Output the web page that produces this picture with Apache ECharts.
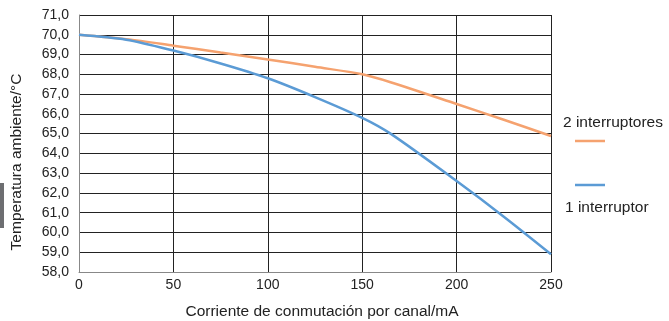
<!DOCTYPE html>
<html><head><meta charset="utf-8">
<script src="https://cdn.jsdelivr.net/npm/echarts@6/dist/echarts.min.js"></script>
<style>html,body{margin:0;padding:0;background:#fff}#c{width:669px;height:321px}</style>
</head><body><div id="c"></div>
<script>
const xTitle = 'Corriente de conmutación por canal/mA';
const yTitle = 'Temperatura ambiente/°C';
const seriesNames = ['2 interruptores', '1 interruptor'];
const currentTwo = [0, 25, 50, 75, 100, 125, 150, 165, 200, 225, 250];
const tempTwo = [70.0, 69.78, 69.45, 69.1, 68.75, 68.38, 68.0, 67.6, 66.5, 65.7, 64.88];
const currentOne = [0, 25, 50, 75, 100, 125, 150, 165, 200, 225, 250];
const tempOne = [70.0, 69.75, 69.2, 68.55, 67.8, 66.85, 65.8, 65.0, 62.6, 60.8, 58.9];

const font = '"Liberation Sans", Arial, sans-serif';
const chart = echarts.init(document.getElementById('c'));
chart.setOption({
  animation: false,
  textStyle: {fontFamily: font},
  grid: {left: 79, right: 118, top: 15, bottom: 49, containLabel: false, outerBoundsMode: 'none'},
  xAxis: {
    type: 'value', min: 0, max: 250, interval: 50,
    axisLine: {show: true, lineStyle: {color: '#888'}},
    axisTick: {show: false},
    axisLabel: {color: '#222', fontSize: 14, margin: 6, fontFamily: font},
    splitLine: {show: true, lineStyle: {color: '#222', width: 1}}
  },
  yAxis: {
    type: 'value', min: 58, max: 71, interval: 1,
    axisLine: {show: true, lineStyle: {color: '#888'}},
    axisTick: {show: false},
    axisLabel: {color: '#222', fontSize: 14, margin: 10, fontFamily: font,
      formatter: v => v.toFixed(1).replace('.', ',')},
    splitLine: {show: true, lineStyle: {color: '#222', width: 1}}
  },
  series: [
    {name: seriesNames[0], type: 'line', smooth: 0.3, symbol: 'none',
     lineStyle: {color: '#f5a26f', width: 2.5},
     data: currentTwo.map((x, i) => [x, tempTwo[i]])},
    {name: seriesNames[1], type: 'line', smooth: 0.3, symbol: 'none',
     lineStyle: {color: '#5b9bd5', width: 2.5},
     data: currentOne.map((x, i) => [x, tempOne[i]])}
  ],
  graphic: [
    {type: 'rect', left: 0, top: 183, shape: {width: 4, height: 45}, style: {fill: '#6d6e71'}},
    {type: 'text', x: 17, y: 162, rotation: Math.PI / 2,
     style: {text: yTitle, fill: '#222', font: '15.5px ' + font, align: 'center', verticalAlign: 'middle'}},
    {type: 'text', x: 322, y: 312,
     style: {text: xTitle, fill: '#222', font: '15.5px ' + font, align: 'center', verticalAlign: 'middle'}},
    {type: 'text', x: 563, y: 123, style: {text: seriesNames[0], fill: '#222', font: '15.5px ' + font, verticalAlign: 'middle'}},
    {type: 'line', shape: {x1: 575, y1: 141, x2: 605, y2: 141}, style: {stroke: '#f5a26f', lineWidth: 2.5}},
    {type: 'line', shape: {x1: 575, y1: 185, x2: 605, y2: 185}, style: {stroke: '#5b9bd5', lineWidth: 2.5}},
    {type: 'text', x: 565, y: 208, style: {text: seriesNames[1], fill: '#222', font: '15.5px ' + font, verticalAlign: 'middle'}}
  ]
});
</script></body></html>
